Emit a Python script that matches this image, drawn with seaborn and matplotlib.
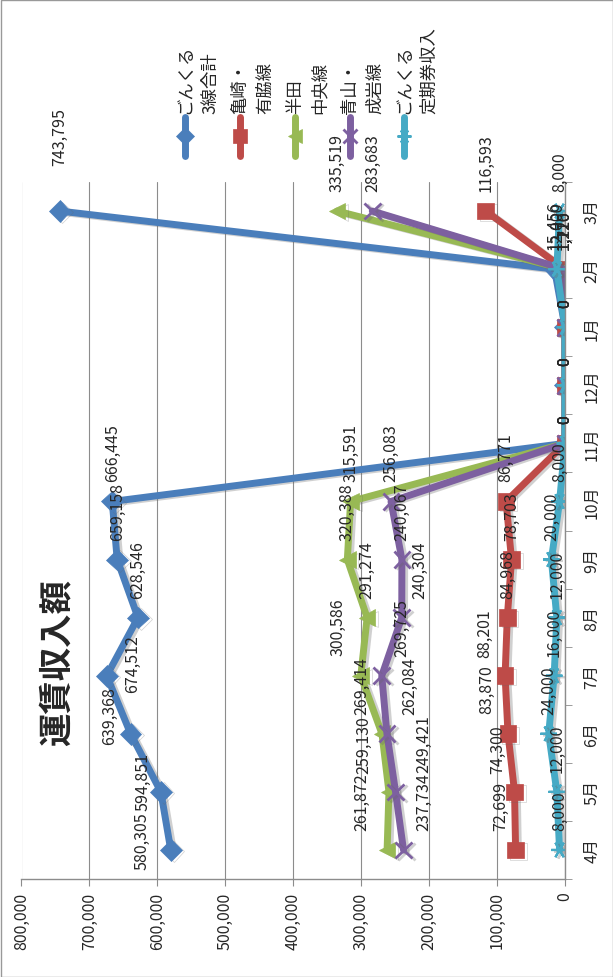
import matplotlib
matplotlib.use("Agg")
import matplotlib.pyplot as plt
import matplotlib.patheffects as pe
from matplotlib.lines import Line2D
from matplotlib.patches import Rectangle
import seaborn as sns

# data (4月 .. 3月)
months = ["4月", "5月", "6月", "7月", "8月", "9月", "10月", "11月", "12月", "1月", "2月", "3月"]
series_names = ["ごんくる\n3線合計", "亀崎・\n有脇線", "半田\n中央線", "青山・\n成岩線", "ごんくる\n定期券収入"]
total = [580305, 594851, 639368, 674512, 628546, 659158, 666445, 0, 0, 0, 15456, 743795]
kamezaki = [72699, 74300, 83870, 88201, 84968, 78703, 86771, 0, 0, 0, 1116, 116593]
handa = [261872, 259130, 269414, 300586, 291274, 320388, 315591, 0, 0, 0, 1120, 335519]
aoyama = [237734, 249421, 262084, 269725, 240304, 240067, 256083, 0, 0, 0, 1220, 283683]
teiki = [8000, 12000, 24000, 16000, 12000, 20000, 8000, 0, 0, 0, 12000, 8000]

# style
colors = ["#4A7EBB", "#BE4B48", "#98B954", "#7D60A0", "#46AAC5"]
markers = ["D", "s", "<", "x", (6, 2, 90)]
msizes = [11, 12, 12, 12, 12]
mews = [0.5, 0.5, 0.5, 2, 1.6]
# label nudges in pixels (dx, dy up) where Excel labels were moved by hand
nudge = {
    (0, 0): (-29, -19), (0, 1): (-18, -18), (0, 2): (-21, -10), (0, 3): (26, -16), (0, 11): (0, 46),
    (1, 0): (-15, 20), (1, 1): (-17, 19), (1, 2): (-21, 21), (1, 3): (-20, 19),
    (2, 0): (-25, 20), (2, 1): (-25, 19), (2, 2): (-20, 20), (2, 3): (-23, 21),
    (3, 0): (20, 20), (3, 1): (28, 20), (3, 2): (23, 20), (3, 3): (20, 20), (3, 4): (18, 20),
}

W, H = 613, 978
sns.set_style("white")
plt.rcParams['font.family'] = ['Noto Sans CJK JP', 'DejaVu Sans']

fig = plt.figure(figsize=(W / 100, H / 100), dpi=100)
ax = fig.add_axes([21.5 / W, 1 - 880 / H, (565 - 21.5) / W, (880 - 183) / H])

pos = list(range(len(months)))
shadow = [pe.SimpleLineShadow(offset=(2, -1), shadow_color="0.4", alpha=0.3), pe.Normal()]
all_series = [total, kamezaki, handa, aoyama, teiki]

for i, vals in enumerate(all_series):
    sns.lineplot(x=vals, y=pos, ax=ax, orient="y", estimator=None, sort=False,
                 color=colors[i], linewidth=5, marker=markers[i], markersize=msizes[i],
                 markeredgecolor=colors[i], markeredgewidth=mews[i], path_effects=shadow)

for i, vals in enumerate(all_series):
    for j, v in enumerate(vals):
        dx, dy = nudge.get((i, j), (0, 20))
        ax.annotate(f"{v:,}", (v, j), xytext=(dx * 0.72, dy * 0.72), textcoords="offset points",
                    rotation=90, ha="center", va="bottom", fontsize=11.5, annotation_clip=False)

ax.set_xlim(800000, 0)
ax.set_ylim(-0.5, 11.5)
ax.set_xticks(range(0, 800001, 100000), [f"{t:,}" for t in range(0, 800001, 100000)])
ax.tick_params(axis="x", labelrotation=90, labelsize=11.5, length=5, color="0.55", bottom=True, pad=4)
ax.xaxis.grid(True, color="0.55", lw=0.8)
ax.set_axisbelow(True)

ax.yaxis.tick_right()
ax.set_yticks(pos, months)
ax.set_yticks([p - 0.5 for p in range(13)], minor=True)
ax.tick_params(axis="y", which="major", length=0, pad=13, labelrotation=90, labelsize=11.5)
ax.tick_params(axis="y", which="minor", length=5, color="0.55", right=True, left=False)
for lab in ax.get_yticklabels():
    lab.set_verticalalignment("center")

ax.spines["left"].set_visible(False)
ax.spines["top"].set_visible(False)
for s in ["right", "bottom"]:
    ax.spines[s].set_color("0.55")
    ax.spines[s].set_linewidth(1)

# title
fig.text(58 / W, 1 - 663 / H, "運賃収入額", rotation=90, fontsize=24, fontweight="bold",
         ha="center", va="center")

# legend (rotated with the chart)
leg_x = [185, 240, 295, 350, 404]
for i, name in enumerate(series_names):
    x = leg_x[i] / W
    fig.add_artist(Line2D([x, x], [1 - 157 / H, 1 - 118 / H], transform=fig.transFigure,
                          color=colors[i], lw=5, solid_capstyle="round"))
    fig.add_artist(Line2D([x], [1 - 137 / H], transform=fig.transFigure, color=colors[i],
                          marker=markers[i], markersize=msizes[i] - 2,
                          markeredgecolor=colors[i], markeredgewidth=mews[i], lw=0))
    fig.text((leg_x[i] - 9) / W, 1 - 114 / H, name, rotation=90, fontsize=12.5,
             ha="left", va="bottom", multialignment="left", linespacing=1.5)

fig.patches.append(Rectangle((0.5 / W, 0.5 / H), 1 - 1 / W, 1 - 1 / H, transform=fig.transFigure,
                             fill=False, ec="0.6", lw=1))

fig.savefig("out.png", dpi=100)
